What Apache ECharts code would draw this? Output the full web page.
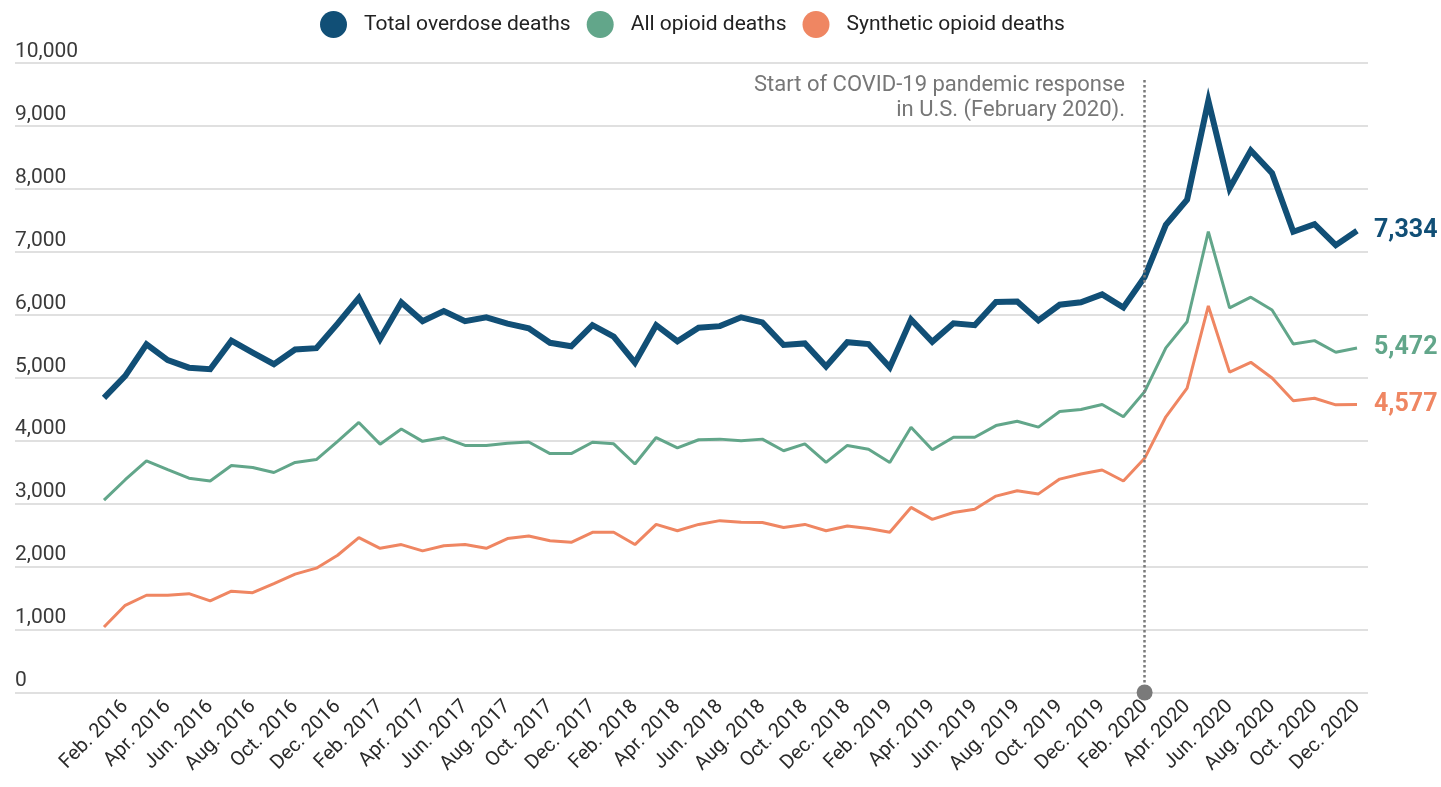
<!DOCTYPE html>
<html lang="en">
<head>
    <meta charset="UTF-8">
    <title>Overdose deaths 2016-2020</title>
    <script type="text/javascript" src="https://cdn.jsdelivr.net/npm/echarts@6/dist/echarts.min.js"></script>
    <style type="text/css">
        html,body{margin:0;padding:0;background:#fff;}
        #main{width:1441px;height:787px;}
    </style>
</head>
<body>
<div id="main"></div>
<script type="text/javascript">
    // 月份标签 Jan. 2016 - Dec. 2020
    var monthNames = ['Jan.', 'Feb.', 'Mar.', 'Apr.', 'May', 'Jun.', 'Jul.', 'Aug.', 'Sep.', 'Oct.', 'Nov.', 'Dec.'];
    var years = [2016, 2017, 2018, 2019, 2020];
    var months = [];
    for (var y = 0; y < years.length; y++) {
        for (var m = 0; m < 12; m++) {
            months.push(monthNames[m] + ' ' + years[y]);
        }
    }

    var yTicks = [0, 1000, 2000, 3000, 4000, 5000, 6000, 7000, 8000, 9000, 10000];

    // Total overdose deaths
    var totalDeaths = [4680, 5030, 5530, 5280, 5160, 5135, 5590, 5400, 5215, 5450, 5470, 5860,
        6270, 5615, 6195, 5900, 6060, 5900, 5960, 5860, 5785, 5555, 5500, 5835,
        5655, 5240, 5835, 5580, 5795, 5820, 5960, 5880, 5520, 5545, 5180, 5565,
        5535, 5165, 5925, 5570, 5865, 5835, 6205, 6210, 5910, 6160, 6200, 6325,
        6115, 6600, 7430, 7830, 9400, 8010, 8610, 8250, 7320, 7440, 7105, 7334];
    // All opioid deaths
    var opioidDeaths = [3055, 3380, 3680, 3540, 3405, 3360, 3605, 3575, 3495, 3655, 3700, 3990,
        4290, 3945, 4185, 3990, 4050, 3925, 3925, 3960, 3980, 3795, 3795, 3975,
        3950, 3630, 4050, 3885, 4015, 4025, 4000, 4025, 3840, 3950, 3655, 3925,
        3865, 3655, 4215, 3855, 4055, 4055, 4240, 4310, 4215, 4465, 4495, 4575,
        4380, 4780, 5475, 5890, 7320, 6110, 6280, 6075, 5535, 5590, 5405, 5472];
    // Synthetic opioid deaths
    var syntheticDeaths = [1040, 1385, 1545, 1545, 1570, 1455, 1610, 1585, 1730, 1880, 1975, 2180,
        2460, 2290, 2350, 2250, 2330, 2350, 2290, 2445, 2485, 2410, 2385, 2545,
        2545, 2350, 2670, 2570, 2670, 2730, 2705, 2700, 2620, 2670, 2570, 2645,
        2605, 2545, 2940, 2750, 2860, 2910, 3120, 3205, 3155, 3390, 3470, 3535,
        3360, 3720, 4380, 4835, 6140, 5090, 5245, 4995, 4635, 4675, 4570, 4577];

    var covidMonth = 'Feb. 2020';

    var cBlue = '#114f76';
    var cGreen = '#62a68a';
    var cOrange = '#ef8662';
    var fontName = 'Roboto, "Liberation Sans", sans-serif';

    function fmt(v) {
        return Number(v).toLocaleString('en-US');
    }

    function endLabel(color) {
        return {
            show: true,
            distance: 17,
            fontSize: 25,
            fontWeight: 'bold',
            color: color,
            formatter: function (p) { return fmt(p.value); }
        };
    }

    var myChart = echarts.init(document.getElementById('main'));

    var option = {
        animation: false,
        textStyle: {fontFamily: fontName},
        legend: {
            top: 6,
            left: 315,
            icon: 'circle',
            itemWidth: 27,
            itemHeight: 27,
            itemGap: 16,
            textStyle: {fontSize: 21, color: '#222', padding: [0, 0, 0, 12]},
            data: ['Total overdose deaths', 'All opioid deaths', 'Synthetic opioid deaths']
        },
        //两个grid: 一个画网格线, 一个放数据
        grid: [
            {left: 15, right: 73, top: 63, bottom: 94.5},
            {left: 104, right: 84, top: 63, bottom: 94.5}
        ],
        xAxis: [
            {gridIndex: 0, type: 'value', show: false},
            {
                gridIndex: 1,
                type: 'category',
                boundaryGap: false,
                data: months,
                axisLine: {show: false},
                axisTick: {show: false},
                axisLabel: {
                    rotate: 45,
                    margin: 11,
                    fontSize: 20,
                    color: '#2a2a2a',
                    interval: function (index) {
                        return index % 2 === 1;
                    }
                }
            }
        ],
        yAxis: [
            {
                gridIndex: 0,
                type: 'value',
                min: yTicks[0],
                max: yTicks[yTicks.length - 1],
                interval: 1000,
                axisLine: {show: false},
                axisTick: {show: false},
                splitLine: {lineStyle: {color: '#d6d6d6', width: 1.5}},
                axisLabel: {
                    inside: true,
                    margin: 0,
                    align: 'left',
                    verticalAlign: 'bottom',
                    padding: [0, 0, 1, 0],
                    fontSize: 21,
                    color: '#3a3a3a',
                    formatter: fmt
                }
            },
            {
                gridIndex: 1,
                type: 'value',
                min: yTicks[0],
                max: yTicks[yTicks.length - 1],
                show: false
            }
        ],
        graphic: [{
            type: 'text',
            right: 1441 - 1125,
            top: 73,
            style: {
                text: 'Start of COVID-19 pandemic response\nin U.S. (February 2020).',
                fill: '#777',
                font: '22px ' + fontName,
                textAlign: 'right',
                lineHeight: 25
            }
        }],
        series: [
            {
                name: 'Synthetic opioid deaths',
                type: 'line',
                xAxisIndex: 1,
                yAxisIndex: 1,
                data: syntheticDeaths,
                symbol: 'none',
                color: cOrange,
                lineStyle: {width: 3, color: cOrange},
                endLabel: endLabel(cOrange)
            },
            {
                name: 'All opioid deaths',
                type: 'line',
                xAxisIndex: 1,
                yAxisIndex: 1,
                data: opioidDeaths,
                symbol: 'none',
                color: cGreen,
                lineStyle: {width: 3, color: cGreen},
                endLabel: endLabel(cGreen)
            },
            {
                name: 'Total overdose deaths',
                type: 'line',
                xAxisIndex: 1,
                yAxisIndex: 1,
                data: totalDeaths,
                symbol: 'none',
                color: cBlue,
                lineStyle: {width: 6, color: cBlue, join: 'miter'},
                endLabel: endLabel(cBlue),
                markLine: {
                    silent: true,
                    symbol: ['circle', 'none'],
                    symbolSize: [16, 16],
                    label: {show: false},
                    lineStyle: {type: 'dotted', color: '#7a7a7a', width: 2.5},
                    itemStyle: {color: '#8a8a8a'},
                    data: [[
                        {coord: [covidMonth, 0], itemStyle: {color: '#8a8a8a'}},
                        {coord: [covidMonth, 9750]}
                    ]]
                }
            }
        ]
    };

    myChart.setOption(option);
</script>
</body>
</html>
